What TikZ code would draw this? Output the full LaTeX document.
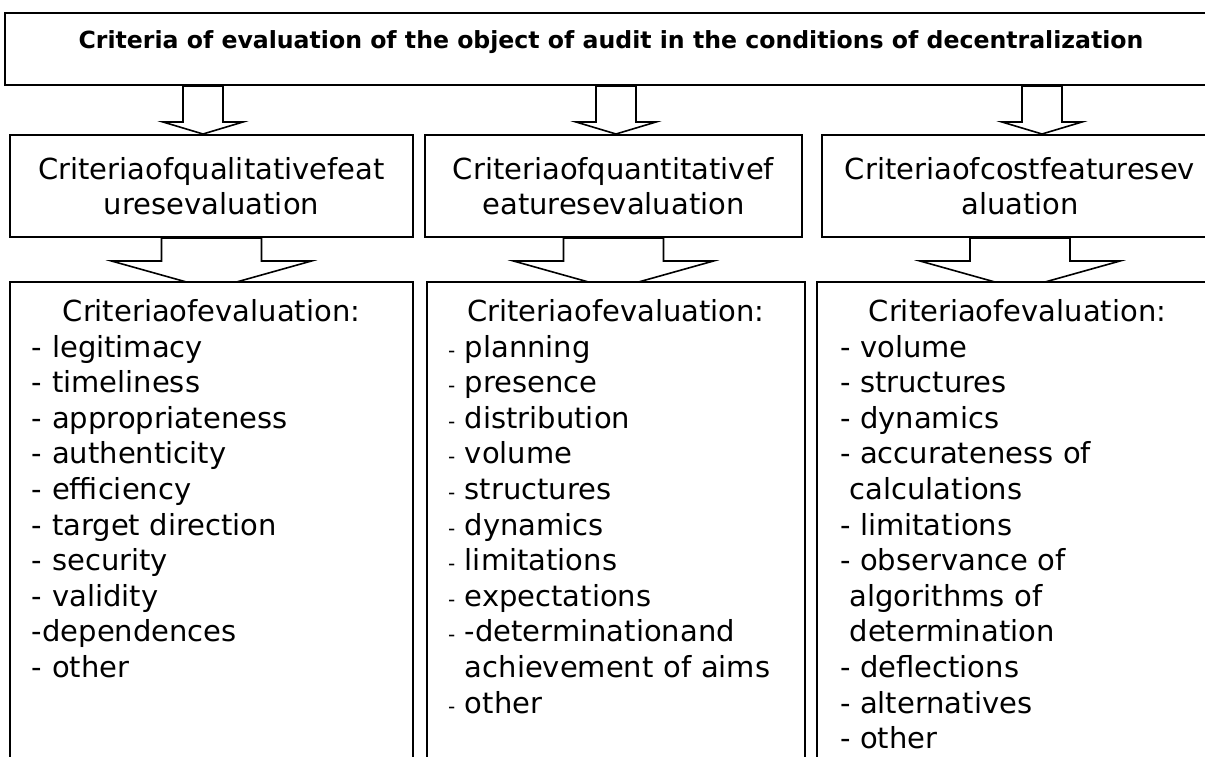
\documentclass[tikz,border=0pt]{standalone}
\usepackage{fontspec}
\setmainfont{DejaVu Sans}

\tikzset{
  frame/.style={draw, line width=1pt, fill=white, inner sep=0pt},
  blockarrow/.style={draw, line width=0.8pt, fill=white, line join=miter},
  itemlist/.style={inner sep=0pt, align=left, anchor=north},
}
\newcommand{\sdash}{{\fontsize{10}{10}\selectfont -}}

\begin{document}
\begin{tikzpicture}[x=0.5pt, y=-0.5pt, font=\fontsize{14.5}{17.8}\selectfont]
\useasboundingbox (0,0) rectangle (1205,756);

\node[frame, minimum width=607.5pt, minimum height=36pt] (head) at (612.5,49) {};
\node[anchor=base, font=\bfseries\fontsize{11.8}{13}\selectfont] (title) at (611,48) {Criteria of evaluation of the object of audit in the conditions of decentralization};

\node[frame, minimum width=201.5pt, minimum height=51pt, align=center] (qual) at (211.5,186) {Criteriaofqualitativefeat\\uresevaluation};
\node[frame, minimum width=188.5pt, minimum height=51pt, align=center] (quant) at (613.5,186) {Criteriaofquantitativef\\eaturesevaluation};
\node[frame, minimum width=198pt, minimum height=51pt, align=center] (cost) at (1020,186) {Criteriaofcostfeaturesev\\aluation};

% arrows from the heading
\coordinate (a1) at ([xshift=-4.25pt]head.south -| qual.north);
\coordinate (a2) at ([xshift=1.25pt]head.south -| quant.north);
\coordinate (a3) at ([xshift=11pt]head.south -| cost.north);
\foreach \a in {a1,a2,a3}
  \draw[blockarrow] (\a) ++(-20,0) -- ++(0,36) -- ++(-20,0) -- ++(40,12) -- ++(40,-12) -- ++(-20,0) -- ++(0,-36) -- cycle;

% arrows into the lists
\foreach \m in {qual,quant,cost}
  \draw[blockarrow] (\m.south) ++(-50,0) -- ++(0,23) -- ++(-50,0) -- ++(100,28) -- ++(100,-28) -- ++(-50,0) -- ++(0,-23) -- cycle;

\node[frame, minimum width=201.5pt, minimum height=259pt] (qlist) at (211.5,541) {};
\node[frame, minimum width=189pt, minimum height=259pt] (nlist) at (616,541) {};
\node[frame, minimum width=200.5pt, minimum height=259pt] (clist) at (1017.5,541) {};

\node[itemlist, text width=179.5pt] (qtext) at ([yshift=-9pt]qlist.north) {\makebox[\hsize]{Criteriaofevaluation:}\\
- legitimacy\\
- timeliness\\
- appropriateness\\
- authenticity\\
- efficiency\\
- target direction\\
- security\\
- validity\\
-dependences\\
- other};

\node[itemlist, text width=168pt] (ntext) at ([yshift=-9pt]nlist.north) {\makebox[\hsize]{Criteriaofevaluation:}\\
\sdash\ planning\\
\sdash\ presence\\
\sdash\ distribution\\
\sdash\ volume\\
\sdash\ structures\\
\sdash\ dynamics\\
\sdash\ limitations\\
\sdash\ expectations\\
\sdash\ -determinationand\\
\leavevmode\phantom{\sdash\ }achievement of aims\\
\sdash\ other};

\node[itemlist, text width=177.5pt] (ctext) at ([yshift=-9pt]clist.north) {\makebox[\hsize]{Criteriaofevaluation:}\\
- volume\\
- structures\\
- dynamics\\
- accurateness of\\
\ calculations\\
- limitations\\
- observance of\\
\ algorithms of\\
\ determination\\
- deflections\\
- alternatives\\
- other};

\end{tikzpicture}
\end{document}
